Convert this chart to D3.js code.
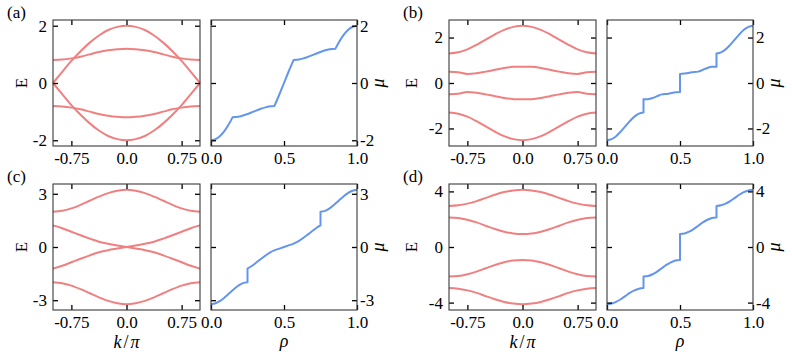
<!DOCTYPE html>
<html>
<head>
<meta charset="utf-8">
<script src="https://cdn.jsdelivr.net/npm/d3@7"></script>
<style>
body { margin: 0; background: #fff; }
svg text { font-family: "Liberation Serif", "Times New Roman", serif; }
</style>
</head>
<body>
<svg id="chart" width="792" height="361"></svg>
<script>
// momentum grid, in units of pi
var kValues = [-1, -0.875, -0.75, -0.625, -0.5, -0.375, -0.25, -0.125, 0, 0.125, 0.25, 0.375, 0.5, 0.625, 0.75, 0.875, 1];

// (a) bands
var bandA1 = [0, 0.39, 0.77, 1.11, 1.41, 1.66, 1.85, 1.96, 2.0, 1.96, 1.85, 1.66, 1.41, 1.11, 0.77, 0.39, 0];
var bandA2 = [0.80, 0.82, 0.86, 0.92, 1.00, 1.08, 1.14, 1.18, 1.20, 1.18, 1.14, 1.08, 1.00, 0.92, 0.86, 0.82, 0.80];
var bandA3 = [-0.80, -0.82, -0.86, -0.92, -1.00, -1.08, -1.14, -1.18, -1.20, -1.18, -1.14, -1.08, -1.00, -0.92, -0.86, -0.82, -0.80];
var bandA4 = [0, -0.39, -0.77, -1.11, -1.41, -1.66, -1.85, -1.96, -2.0, -1.96, -1.85, -1.66, -1.41, -1.11, -0.77, -0.39, 0];
// (b) bands
var bandB1 = [1.30, 1.35, 1.48, 1.68, 1.91, 2.14, 2.34, 2.47, 2.52, 2.47, 2.34, 2.14, 1.91, 1.68, 1.48, 1.35, 1.30];
var bandB2 = [0.50, 0.47, 0.40, 0.43, 0.50, 0.58, 0.66, 0.71, 0.72, 0.71, 0.66, 0.58, 0.50, 0.43, 0.40, 0.47, 0.50];
var bandB3 = [-0.50, -0.47, -0.40, -0.43, -0.50, -0.58, -0.66, -0.71, -0.72, -0.71, -0.66, -0.58, -0.50, -0.43, -0.40, -0.47, -0.50];
var bandB4 = [-1.30, -1.35, -1.48, -1.68, -1.91, -2.14, -2.34, -2.47, -2.52, -2.47, -2.34, -2.14, -1.91, -1.68, -1.48, -1.35, -1.30];
// (c) bands
var bandC1 = [1.99, 2.04, 2.18, 2.38, 2.61, 2.84, 3.04, 3.17, 3.23, 3.17, 3.04, 2.84, 2.61, 2.38, 2.18, 2.04, 1.99];
var bandC2 = [1.22, 1.06, 0.86, 0.66, 0.47, 0.30, 0.18, 0.09, 0, -0.09, -0.18, -0.30, -0.47, -0.66, -0.86, -1.06, -1.22];
var bandC3 = [-1.22, -1.06, -0.86, -0.66, -0.47, -0.30, -0.18, -0.09, 0, 0.09, 0.18, 0.30, 0.47, 0.66, 0.86, 1.06, 1.22];
var bandC4 = [-1.99, -2.04, -2.18, -2.38, -2.61, -2.84, -3.04, -3.17, -3.23, -3.17, -3.04, -2.84, -2.61, -2.38, -2.18, -2.04, -1.99];
// (d) bands
var bandD1 = [2.95, 3.00, 3.12, 3.30, 3.53, 3.76, 3.95, 4.07, 4.12, 4.07, 3.95, 3.76, 3.53, 3.30, 3.12, 3.00, 2.95];
var bandD2 = [2.13, 2.09, 1.96, 1.77, 1.53, 1.29, 1.10, 0.97, 0.93, 0.97, 1.10, 1.29, 1.53, 1.77, 1.96, 2.09, 2.13];
var bandD3 = [-2.13, -2.09, -1.96, -1.77, -1.53, -1.29, -1.10, -0.97, -0.93, -0.97, -1.10, -1.29, -1.53, -1.77, -1.96, -2.09, -2.13];
var bandD4 = [-2.95, -3.00, -3.12, -3.30, -3.53, -3.76, -3.95, -4.07, -4.12, -4.07, -3.95, -3.76, -3.53, -3.30, -3.12, -3.00, -2.95];

// chemical potential vs filling; a repeated rho starts a new piece (kink or jump)
var rhoA = [0, 0.03, 0.06, 0.09, 0.12, 0.1475,
            0.1475, 0.1855, 0.21, 0.241, 0.292, 0.342, 0.373, 0.397, 0.4345,
            0.4345, 0.4675, 0.5, 0.5325, 0.5655,
            0.5655, 0.603, 0.627, 0.658, 0.708, 0.759, 0.79, 0.8145, 0.8525,
            0.8525, 0.88, 0.91, 0.94, 0.97, 1];
var muA = [-2, -1.965, -1.86, -1.69, -1.46, -1.2,
           -1.2, -1.18, -1.15, -1.1, -1.0, -0.9, -0.85, -0.82, -0.8,
           -0.8, -0.41, 0, 0.41, 0.8,
           0.8, 0.82, 0.85, 0.9, 1.0, 1.1, 1.15, 1.18, 1.2,
           1.2, 1.46, 1.69, 1.86, 1.965, 2];
var rhoB = [0, 0.03125, 0.0625, 0.09375, 0.125, 0.15625, 0.1875, 0.21875, 0.25,
            0.25, 0.28125, 0.3125, 0.34375, 0.375, 0.42, 0.451, 0.5,
            0.5, 0.549, 0.58, 0.625, 0.65625, 0.6875, 0.71875, 0.75,
            0.75, 0.78125, 0.8125, 0.84375, 0.875, 0.90625, 0.9375, 0.96875, 1];
var muB = [-2.52, -2.47, -2.34, -2.14, -1.91, -1.68, -1.48, -1.35, -1.30,
           -0.72, -0.71, -0.66, -0.58, -0.50, -0.47, -0.43, -0.40,
           0.40, 0.43, 0.47, 0.50, 0.58, 0.66, 0.71, 0.72,
           1.30, 1.35, 1.48, 1.68, 1.91, 2.14, 2.34, 2.47, 2.52];
var rhoC = [0, 0.03125, 0.0625, 0.09375, 0.125, 0.15625, 0.1875, 0.21875, 0.25,
            0.25, 0.28125, 0.3125, 0.34375, 0.375, 0.40625, 0.4375, 0.46875, 0.5,
            0.53125, 0.5625, 0.59375, 0.625, 0.65625, 0.6875, 0.71875, 0.75,
            0.75, 0.78125, 0.8125, 0.84375, 0.875, 0.90625, 0.9375, 0.96875, 1];
var muC = [-3.23, -3.17, -3.04, -2.84, -2.61, -2.38, -2.18, -2.04, -1.99,
           -1.22, -1.06, -0.86, -0.66, -0.47, -0.30, -0.18, -0.09, 0,
           0.09, 0.18, 0.30, 0.47, 0.66, 0.86, 1.06, 1.22,
           1.99, 2.04, 2.18, 2.38, 2.61, 2.84, 3.04, 3.17, 3.23];
var rhoD = [0, 0.03125, 0.0625, 0.09375, 0.125, 0.15625, 0.1875, 0.21875, 0.25,
            0.25, 0.28125, 0.3125, 0.34375, 0.375, 0.40625, 0.4375, 0.46875, 0.5,
            0.5, 0.53125, 0.5625, 0.59375, 0.625, 0.65625, 0.6875, 0.71875, 0.75,
            0.75, 0.78125, 0.8125, 0.84375, 0.875, 0.90625, 0.9375, 0.96875, 1];
var muD = [-4.12, -4.07, -3.95, -3.76, -3.53, -3.30, -3.12, -3.00, -2.95,
           -2.13, -2.09, -1.96, -1.77, -1.53, -1.29, -1.10, -0.97, -0.93,
           0.93, 0.97, 1.10, 1.29, 1.53, 1.77, 1.96, 2.09, 2.13,
           2.95, 3.00, 3.12, 3.30, 3.53, 3.76, 3.95, 4.07, 4.12];

var kTicks = [-0.75, 0, 0.75];
var rhoTicks = [0, 0.5, 1];
var yTicksA = [-2, 0, 2];
var yTicksB = [-2, 0, 2];
var yTicksC = [-3, 0, 3];
var yTicksD = [-4, 0, 4];

var bandColor = "#f08080";
var muColor = "#6495ed";
var fontSize = 17;
var leftW = 147, gap = 11, rightW = 146, panelH = 126, tickLen = 5;

var panels = [
    { label: "(a)", bands: [bandA1, bandA2, bandA3, bandA4], rho: rhoA, mu: muA, yTicks: yTicksA, x: 53, y: 20, eX: 26.5, labX: 7, xlab: false },
    { label: "(b)", bands: [bandB1, bandB2, bandB3, bandB4], rho: rhoB, mu: muB, yTicks: yTicksB, x: 449, y: 20, eX: 417, labX: 403, xlab: false },
    { label: "(c)", bands: [bandC1, bandC2, bandC3, bandC4], rho: rhoC, mu: muC, yTicks: yTicksC, x: 53, y: 184, eX: 26.5, labX: 7, xlab: true },
    { label: "(d)", bands: [bandD1, bandD2, bandD3, bandD4], rho: rhoD, mu: muD, yTicks: yTicksD, x: 449, y: 184, eX: 417, labX: 403, xlab: true }
];

var svg = d3.select("#chart");

function fmtK(d) {
    return d === 0 ? "0.0" : d3.format(".2f")(d).replace("\u2212", "-");
}
function fmtRho(d) {
    return d3.format(".1f")(d);
}
function fmtY(d) {
    return d3.format("d")(d).replace("\u2212", "-");
}

function styleAxis(g) {
    g.select(".domain").remove();
    g.attr("font-size", fontSize).attr("font-family", null);
    g.selectAll(".tick line").attr("stroke", "#000").attr("stroke-width", 1.3);
}

// ticks on all four sides, pointing inward
function addAxes(x, y, xTicks, yTicks, xFmt, yLeftFmt, yRightFmt) {
    var r = x.range(), t = y.range();
    svg.append("g").attr("transform", "translate(0," + t[0] + ")")
        .call(d3.axisBottom(x).tickValues(xTicks).tickSize(-tickLen).tickPadding(6).tickFormat(xFmt))
        .call(styleAxis);
    svg.append("g").attr("transform", "translate(0," + t[1] + ")")
        .call(d3.axisTop(x).tickValues(xTicks).tickSize(-tickLen).tickFormat(""))
        .call(styleAxis);
    svg.append("g").attr("transform", "translate(" + r[0] + ",0)")
        .call(d3.axisLeft(y).tickValues(yTicks).tickSize(-tickLen).tickPadding(6).tickFormat(yLeftFmt))
        .call(styleAxis);
    svg.append("g").attr("transform", "translate(" + r[1] + ",0)")
        .call(d3.axisRight(y).tickValues(yTicks).tickSize(-tickLen).tickPadding(3).tickFormat(yRightFmt))
        .call(styleAxis);
    svg.append("rect")
        .attr("x", r[0]).attr("y", t[1])
        .attr("width", r[1] - r[0]).attr("height", t[0] - t[1])
        .attr("fill", "none").attr("stroke", "#3a3a3a").attr("stroke-width", 1.1);
}

function splitPieces(rho, mu) {
    var pieces = [], cur = [];
    for (var i = 0; i < rho.length; i++) {
        if (i > 0 && rho[i] === rho[i - 1]) {
            pieces.push(cur);
            cur = [];
        }
        cur.push([rho[i], mu[i]]);
    }
    pieces.push(cur);
    return pieces;
}

function drawPanel(p) {
    var allE = [].concat.apply([], p.bands);
    var eMax = d3.max(allE.map(Math.abs));
    var yDom = [-eMax * 1.1, eMax * 1.1];
    var y = d3.scaleLinear().domain(yDom).range([p.y + panelH, p.y]);
    var xk = d3.scaleLinear().domain([-1, 1]).range([p.x, p.x + leftW]);
    var xr = d3.scaleLinear().domain([0, 1]).range([p.x + leftW + gap, p.x + leftW + gap + rightW]);

    // band structure
    var bandLine = d3.line()
        .x(function (d, i) { return xk(kValues[i]); })
        .y(function (d) { return y(d); })
        .curve(d3.curveMonotoneX);
    svg.append("g").selectAll("path")
        .data(p.bands)
        .enter().append("path")
        .attr("d", bandLine)
        .attr("fill", "none")
        .attr("stroke", bandColor)
        .attr("stroke-width", 2);

    // mu(rho), pieces joined with straight segments
    var muLine = d3.line()
        .x(function (d) { return xr(d[0]); })
        .y(function (d) { return y(d[1]); })
        .curve(d3.curveMonotoneX);
    var pieces = splitPieces(p.rho, p.mu);
    var dStr = pieces.map(function (seg, i) {
        var s = muLine(seg);
        return i === 0 ? s : "L" + s.slice(1);
    }).join("");
    svg.append("path")
        .attr("d", dStr)
        .attr("fill", "none")
        .attr("stroke", muColor)
        .attr("stroke-width", 2)
        .attr("stroke-linejoin", "round");

    addAxes(xk, y, kTicks, p.yTicks, fmtK, fmtY, "");
    addAxes(xr, y, rhoTicks, p.yTicks, fmtRho, "", fmtY);

    var y0 = y(0);
    svg.append("text")
        .attr("transform", "translate(" + p.eX + "," + y0 + ") rotate(-90)")
        .attr("text-anchor", "middle")
        .attr("font-size", fontSize)
        .text("E");
    var muX = xr.range()[1] + 26.5;
    svg.append("text")
        .attr("transform", "translate(" + muX + "," + y0 + ") rotate(-90)")
        .attr("text-anchor", "middle")
        .attr("font-size", fontSize + 1)
        .attr("font-style", "italic")
        .text("\u03bc");
    svg.append("text")
        .attr("x", p.labX).attr("y", p.y - 2)
        .attr("font-size", fontSize)
        .text(p.label);

    if (p.xlab) {
        var kl = svg.append("text")
            .attr("x", (xk.range()[0] + xk.range()[1]) / 2)
            .attr("y", p.y + panelH + 38)
            .attr("text-anchor", "middle")
            .attr("font-size", fontSize + 1);
        kl.append("tspan").attr("font-style", "italic").text("k");
        kl.append("tspan").attr("dx", 2).text("/");
        kl.append("tspan").attr("dx", 2).attr("font-style", "italic").text("\u03c0");
        svg.append("text")
            .attr("x", (xr.range()[0] + xr.range()[1]) / 2)
            .attr("y", p.y + panelH + 37)
            .attr("text-anchor", "middle")
            .attr("font-size", fontSize + 1)
            .attr("font-style", "italic")
            .text("\u03c1");
    }
}

panels.forEach(drawPanel);
</script>
</body>
</html>
